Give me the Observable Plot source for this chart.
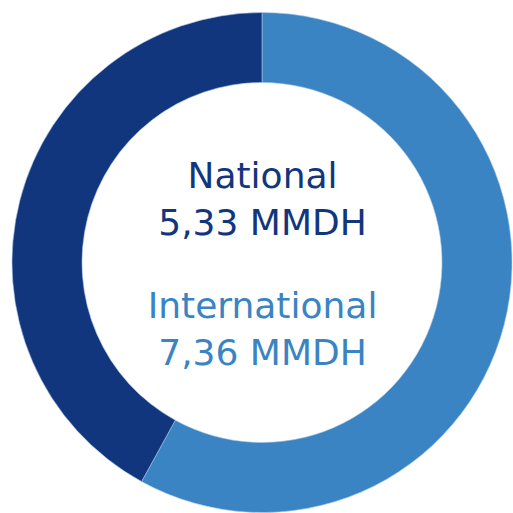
<!DOCTYPE html>
<html>
<head>
<meta charset="utf-8">
<script src="https://cdn.jsdelivr.net/npm/d3@7"></script>
<script src="https://cdn.jsdelivr.net/npm/@observablehq/plot@0.6"></script>
<style>
  html, body { margin: 0; padding: 0; background: #fff; }
  #chart svg { display: block; }
</style>
</head>
<body>
<div id="chart"></div>
<script>
const categories = ["International", "National"];
const values = [7.36, 5.33];
const valueLabels = ["7,36 MMDH", "5,33 MMDH"];
const colors = ["#3a84c3", "#12367e"];

const data = categories.map((c, i) => ({category: c, value: values[i], label: valueLabels[i]}));

const color = Plot.scale({color: {type: "ordinal", domain: categories, range: colors}});

function donut(index, scales, values_, dimensions) {
  const cx = 262, cy = 262.5, rOuter = 250, rInner = 180;
  const pie = d3.pie().sort(null).value(d => d.value);
  const arc = d3.arc().innerRadius(rInner).outerRadius(rOuter);
  const g = d3.create("svg:g").attr("transform", `translate(${cx},${cy})`);
  g.selectAll("path")
    .data(pie(data))
    .join("path")
    .attr("d", arc)
    .attr("fill", d => color.apply(d.data.category))
    .attr("stroke", "#a9c8e6")
    .attr("stroke-width", 0.6);
  return g.node();
}

const font = "DejaVu Sans, Verdana, sans-serif";

const plot = Plot.plot({
  width: 513,
  height: 513,
  margin: 0,
  x: {axis: null},
  y: {axis: null},
  style: {fontFamily: font, background: "#fff"},
  marks: [
    donut,
    Plot.text([data[1]], {
      text: d => `${d.category}\n${d.label}`,
      frameAnchor: "middle",
      lineAnchor: "bottom",
      lineHeight: 1.3,
      dx: 5.5,
      dy: -22.5,
      fontSize: 36,
      fill: d => color.apply(d.category)
    }),
    Plot.text([data[0]], {
      text: d => `${d.category}\n${d.label}`,
      frameAnchor: "middle",
      lineAnchor: "bottom",
      lineHeight: 1.3,
      dx: 5.5,
      dy: 107.5,
      fontSize: 36,
      fill: d => color.apply(d.category)
    })
  ]
});

document.getElementById("chart").appendChild(plot);
</script>
</body>
</html>
